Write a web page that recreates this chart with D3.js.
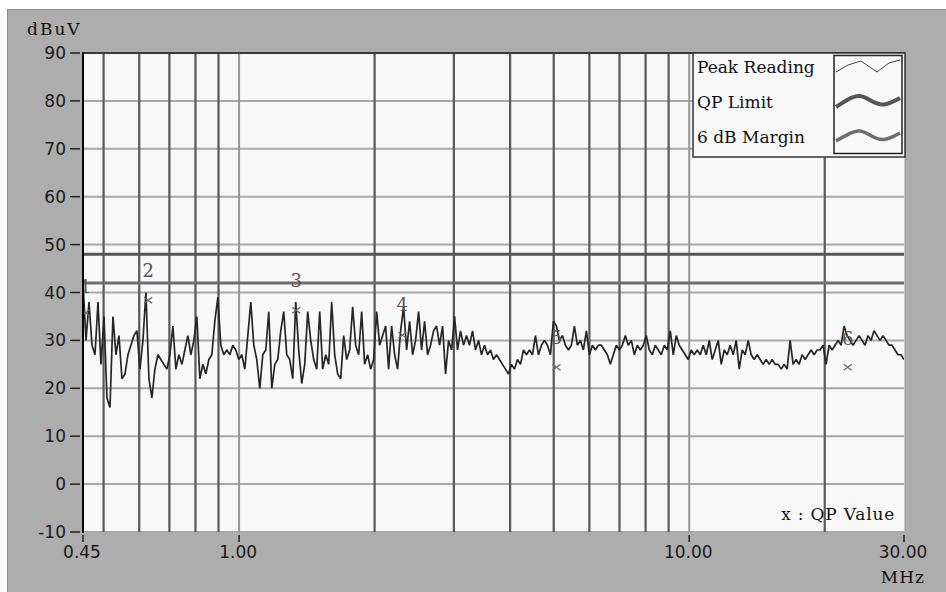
<!DOCTYPE html>
<html>
<head>
<meta charset="utf-8">
<script src="https://cdn.jsdelivr.net/npm/d3@7"></script>
<style>
  body { margin: 0; background: #fff; }
  svg { display: block; }
</style>
</head>
<body>
<div id="chart"></div>
<script>
// receiver sweep, 0.45 - 30 MHz
var sweepStart = 0.45;
var sweepStop = 30;

// peak reading trace, dBuV
var peakLevels = [
  42,30,38,29,27,38,25,35,18,16,
  35,27,31,22,23,27,29,31,32,24,
  30,40,22,18,24,27,26,25,24,27,
  33,24,27,25,28,31,27,30,35,22,
  25,23,26,27,34,39,29,27,28,27,
  29,28,26,27,24,31,38,29,26,20,
  27,28,36,20,25,26,32,36,27,26,
  22,38,28,21,25,36,30,26,24,36,
  24,27,25,38,27,23,22,31,26,28,
  37,29,27,36,25,27,24,26,36,29,
  31,33,24,33,27,24,32,37,28,34,
  27,30,36,28,34,27,29,32,33,29,
  33,23,30,28,35,28,32,29,31,29,
  32,28,30,27,29,27,28,26,27,26,
  25,24,23,25,24,26,25,28,27,28,
  27,31,27,29,30,29,27,34,33,30,
  31,29,28,29,33,29,30,28,32,27,
  29,28,29,29,28,27,25,27,29,28,
  29,31,29,30,27,29,28,29,31,28,
  27,29,28,27,29,28,32,27,31,29,
  28,27,26,28,27,28,27,29,27,30,
  26,28,30,25,28,27,29,27,30,24,
  28,27,30,27,26,27,26,25,26,25,
  26,25,25,24,25,24,30,25,26,25,
  27,26,27,28,27,28,28,29,25,29,
  28,29,30,29,33,31,30,29,30,31,
  30,29,31,30,32,31,30,31,30,29,
  29,28,27,27,26
];

var qpLimit = 48;
var marginLimit = 42;

// marked frequencies
var markerLabels = ["1", "2", "3", "4", "5", "6"];
var markerFreqs = [0.456, 0.628, 1.34, 2.305, 5.07, 22.5];
var markerPeaks = [41.3, 44.7, 42.6, 37.6, 30.7, 30.5];
var markerQP = [35.8, 38.4, 36.3, 31.1, 24.4, 24.4];

var yTicks = [90, 80, 70, 60, 50, 40, 30, 20, 10, 0, -10];
var xTicks = [0.45, 1, 10, 30];
var xTickLabels = ["0.45", "1.00", "10.00", "30.00"];
var xGridMinor = [0.5, 0.6, 0.7, 0.8, 0.9, 2, 3, 4, 5, 6, 7, 8, 9, 20];
var xGridMajor = [1, 10];
var legendNames = ["Peak Reading", "QP Limit", "6 dB Margin"];

var w = 946, h = 592;
var plot = {left: 83, right: 904, top: 53, bottom: 532};

var svg = d3.select("#chart")
  .append("svg")
  .attr("width", w)
  .attr("height", h);

// grey panel
svg.append("rect")
  .attr("x", 7.5)
  .attr("y", 9.5)
  .attr("width", w)
  .attr("height", h)
  .attr("fill", "#adadad")
  .attr("stroke", "#8c8c8c");

var x = d3.scaleLog()
  .domain([sweepStart, sweepStop])
  .range([plot.left, plot.right]);

var y = d3.scaleLinear()
  .domain([-10, 90])
  .range([plot.bottom, plot.top]);

svg.append("defs").append("clipPath")
  .attr("id", "plotClip")
  .append("rect")
  .attr("x", plot.left)
  .attr("y", plot.top)
  .attr("width", plot.right - plot.left)
  .attr("height", plot.bottom - plot.top);

svg.append("rect")
  .attr("x", plot.left)
  .attr("y", plot.top)
  .attr("width", plot.right - plot.left + 1)
  .attr("height", plot.bottom - plot.top)
  .attr("fill", "#f8f8f8")
  .attr("stroke", "#9a9a9a");

// horizontal grid
svg.append("g")
  .selectAll("line")
  .data(yTicks)
  .enter()
  .append("line")
  .attr("x1", plot.left)
  .attr("x2", plot.right)
  .attr("y1", function(d) { return y(d); })
  .attr("y2", function(d) { return y(d); })
  .attr("stroke", "#a8a8a8")
  .attr("stroke-width", 2);

// vertical grid
svg.append("g")
  .selectAll("line")
  .data(xGridMinor)
  .enter()
  .append("line")
  .attr("x1", function(d) { return x(d); })
  .attr("x2", function(d) { return x(d); })
  .attr("y1", plot.top)
  .attr("y2", plot.bottom)
  .attr("stroke", "#585858")
  .attr("stroke-width", 2.2);

svg.append("g")
  .selectAll("line")
  .data(xGridMajor)
  .enter()
  .append("line")
  .attr("x1", function(d) { return x(d); })
  .attr("x2", function(d) { return x(d); })
  .attr("y1", plot.top)
  .attr("y2", plot.bottom)
  .attr("stroke", "#959595")
  .attr("stroke-width", 2);

// limit lines
svg.append("line")
  .attr("x1", plot.left).attr("x2", plot.right)
  .attr("y1", y(qpLimit)).attr("y2", y(qpLimit))
  .attr("stroke", "#555")
  .attr("stroke-width", 3);

svg.append("line")
  .attr("x1", plot.left).attr("x2", plot.right)
  .attr("y1", y(marginLimit)).attr("y2", y(marginLimit))
  .attr("stroke", "#6e6e6e")
  .attr("stroke-width", 3);

// peak trace
var step = Math.log(sweepStop / sweepStart) / (peakLevels.length - 1);
var peakData = peakLevels.map(function(v, i) {
  return {f: sweepStart * Math.exp(step * i), v: v};
});

var line = d3.line()
  .x(function(d) { return x(d.f); })
  .y(function(d) { return y(d.v); });

svg.append("path")
  .datum(peakData)
  .attr("clip-path", "url(#plotClip)")
  .attr("d", line)
  .attr("fill", "none")
  .attr("stroke", "#262626")
  .attr("stroke-width", 1.7)
  .attr("stroke-linejoin", "bevel");

// markers
var markers = markerLabels.map(function(l, i) {
  return {label: l, f: markerFreqs[i], peak: markerPeaks[i], qp: markerQP[i]};
});

svg.append("g")
  .selectAll("text")
  .data(markers)
  .enter()
  .append("text")
  .attr("x", function(d) { return x(d.f); })
  .attr("y", function(d) { return y(d.peak) + 7; })
  .attr("text-anchor", "middle")
  .attr("font-family", "DejaVu Serif")
  .attr("font-size", 18)
  .attr("fill", "#555")
  .text(function(d) { return d.label; });

svg.append("g")
  .selectAll("path")
  .data(markers)
  .enter()
  .append("path")
  .attr("d", function(d) {
    var cx = x(d.f), cy = y(d.qp);
    return "M" + (cx - 4) + "," + (cy - 3) + "L" + (cx + 4) + "," + (cy + 3) +
           "M" + (cx - 4) + "," + (cy + 3) + "L" + (cx + 4) + "," + (cy - 3);
  })
  .attr("stroke", "#666")
  .attr("stroke-width", 1.2)
  .attr("fill", "none");

// axes frame
svg.append("line")
  .attr("x1", plot.left).attr("x2", plot.right + 1)
  .attr("y1", plot.top).attr("y2", plot.top)
  .attr("stroke", "#3a3a3a")
  .attr("stroke-width", 2);

svg.append("line")
  .attr("x1", plot.left).attr("x2", plot.left)
  .attr("y1", plot.top - 1).attr("y2", plot.bottom + 1)
  .attr("stroke", "#000")
  .attr("stroke-width", 2);

// y ticks
var yAxis = svg.append("g");
yAxis.selectAll("line")
  .data(yTicks)
  .enter()
  .append("line")
  .attr("x1", 70).attr("x2", 80)
  .attr("y1", function(d) { return y(d); })
  .attr("y2", function(d) { return y(d); })
  .attr("stroke", "#222")
  .attr("stroke-width", 1.5);

yAxis.selectAll("text")
  .data(yTicks)
  .enter()
  .append("text")
  .attr("x", 66)
  .attr("y", function(d) { return y(d) + 6; })
  .attr("text-anchor", "end")
  .attr("font-family", "DejaVu Sans")
  .attr("font-size", 17)
  .attr("fill", "#1a1a1a")
  .text(function(d) { return d; });

// x ticks
var xAxis = svg.append("g");
xAxis.selectAll("line")
  .data(xTicks)
  .enter()
  .append("line")
  .attr("x1", function(d) { return x(d); })
  .attr("x2", function(d) { return x(d); })
  .attr("y1", 535).attr("y2", 542)
  .attr("stroke", "#222")
  .attr("stroke-width", 1.5);

xAxis.selectAll("text")
  .data(xTicks)
  .enter()
  .append("text")
  .attr("x", function(d) { return x(d) - 1; })
  .attr("y", 558)
  .attr("text-anchor", "middle")
  .attr("font-family", "DejaVu Sans")
  .attr("font-size", 17)
  .attr("fill", "#1a1a1a")
  .text(function(d, i) { return xTickLabels[i]; });

svg.append("text")
  .attr("x", 27).attr("y", 35)
  .attr("font-family", "DejaVu Serif")
  .attr("font-size", 17)
  .attr("letter-spacing", 2)
  .attr("fill", "#111")
  .text("dBuV");

svg.append("text")
  .attr("x", 925).attr("y", 583)
  .attr("text-anchor", "end")
  .attr("font-family", "DejaVu Serif")
  .attr("font-size", 17)
  .attr("letter-spacing", 1)
  .attr("fill", "#111")
  .text("MHz");

svg.append("text")
  .attr("x", 895).attr("y", 520)
  .attr("text-anchor", "end")
  .attr("font-family", "DejaVu Serif")
  .attr("font-size", 17)
  .attr("letter-spacing", 0.8)
  .attr("fill", "#111")
  .text("x : QP Value");

// legend
var legend = svg.append("g");
legend.append("rect")
  .attr("x", 693).attr("y", 53)
  .attr("width", 212).attr("height", 104)
  .attr("fill", "#f8f8f8")
  .attr("stroke", "#333")
  .attr("stroke-width", 1.5);

legend.append("rect")
  .attr("x", 834).attr("y", 55.5)
  .attr("width", 68).attr("height", 98)
  .attr("fill", "#f8f8f8")
  .attr("stroke", "#222")
  .attr("stroke-width", 1.5);

legend.selectAll("text")
  .data(legendNames)
  .enter()
  .append("text")
  .attr("x", 697)
  .attr("y", function(d, i) { return 73 + i * 35; })
  .attr("font-family", "DejaVu Serif")
  .attr("font-size", 17)
  .attr("fill", "#111")
  .text(function(d) { return d; });

var swatchSharp = d3.line();
var swatchSmooth = d3.line().curve(d3.curveBasis);
var swatchStyles = [
  {pts: [[836, 72], [848, 65], [861, 61], [877, 72], [889, 63], [900, 60]], color: "#444", width: 1, smooth: false},
  {pts: [[836, 107], [848, 99], [860, 94], [871, 101], [883, 107], [900, 98]], color: "#555", width: 4, smooth: true},
  {pts: [[836, 141], [848, 134], [860, 129], [871, 136], [883, 142], [900, 133]], color: "#6e6e6e", width: 3.5, smooth: true}
];

legend.selectAll("path")
  .data(swatchStyles)
  .enter()
  .append("path")
  .attr("d", function(d) { return d.smooth ? swatchSmooth(d.pts) : swatchSharp(d.pts); })
  .attr("fill", "none")
  .attr("stroke", function(d) { return d.color; })
  .attr("stroke-width", function(d) { return d.width; })
  .attr("stroke-linejoin", "round");
</script>
</body>
</html>
